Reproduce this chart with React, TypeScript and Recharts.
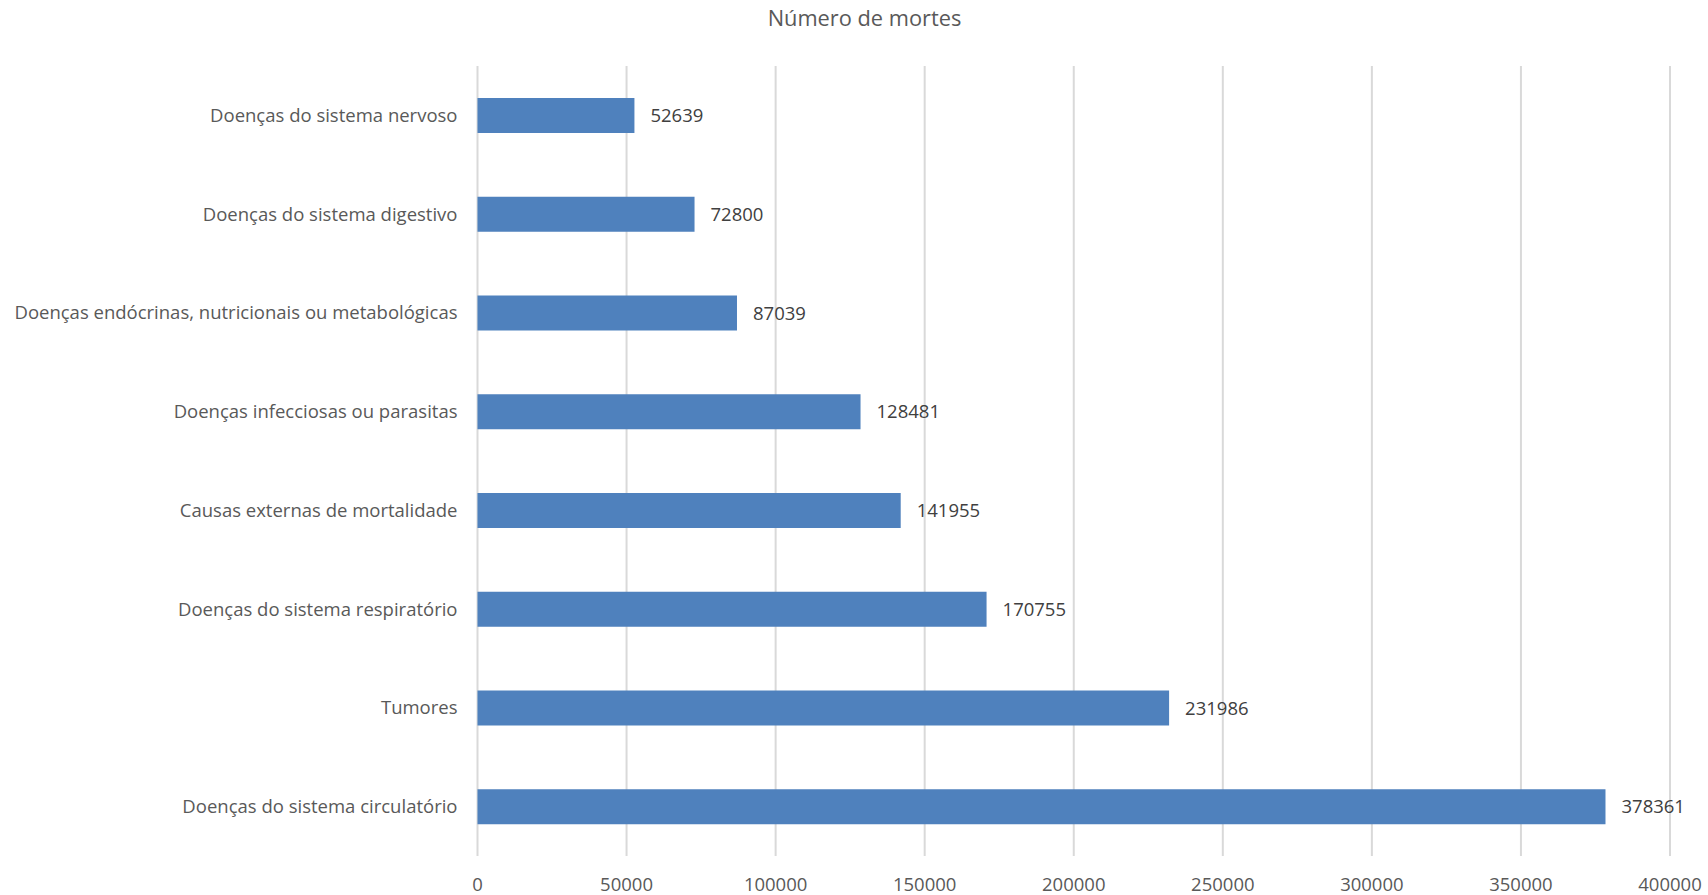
import React from "react";
import { BarChart, Bar, XAxis, YAxis, CartesianGrid, LabelList } from "recharts";

const categories = [
  "Doenças do sistema nervoso",
  "Doenças do sistema digestivo",
  "Doenças endócrinas, nutricionais ou metabológicas",
  "Doenças infecciosas ou parasitas",
  "Causas externas de mortalidade",
  "Doenças do sistema respiratório",
  "Tumores",
  "Doenças do sistema circulatório",
];
const deaths = [52639, 72800, 87039, 128481, 141955, 170755, 231986, 378361];
const xTicks = [0, 50000, 100000, 150000, 200000, 250000, 300000, 350000, 400000];
const title = "Número de mortes";

const data = categories.map((name, i) => ({ name, value: deaths[i] }));

const FONT = "'Open Sans', sans-serif";

export default function App() {
  return (
    <div style={{ position: "absolute", left: 0, top: 0, width: 1708, height: 895, background: "#fff", fontFamily: FONT }}>
      <div
        style={{
          position: "absolute",
          left: 0,
          top: 3,
          width: 1729,
          textAlign: "center",
          fontSize: 21.8,
          color: "#595959",
          fontFamily: FONT,
          lineHeight: "30px",
        }}
      >
        {title}
      </div>
      <BarChart
        width={1708}
        height={895}
        data={data}
        layout="vertical"
        margin={{ top: 66, right: 38, bottom: 0, left: 0 }}
      >
        <CartesianGrid horizontal={false} stroke="#D9D9D9" strokeWidth={2} />
        <XAxis
          type="number"
          domain={[0, 400000]}
          ticks={xTicks}
          interval={0}
          axisLine={false}
          tickLine={false}
          tickSize={0}
          tickMargin={22}
          height={39}
          tick={{ fill: "#595959", fontSize: 18.5, fontFamily: FONT }}
        />
        <YAxis
          type="category"
          dataKey="name"
          width={477.5}
          axisLine={false}
          tickLine={false}
          tickSize={0}
          tickMargin={20}
          interval={0}
          tick={{ fill: "#595959", fontSize: 18.5, fontFamily: FONT }}
        />
        <Bar dataKey="value" fill="#4F81BD" barSize={35} isAnimationActive={false}>
          <LabelList
            dataKey="value"
            position="right"
            offset={16}
            fill="#404040"
            fontSize={18.5}
            fontFamily={FONT}
          />
        </Bar>
      </BarChart>
    </div>
  );
}
